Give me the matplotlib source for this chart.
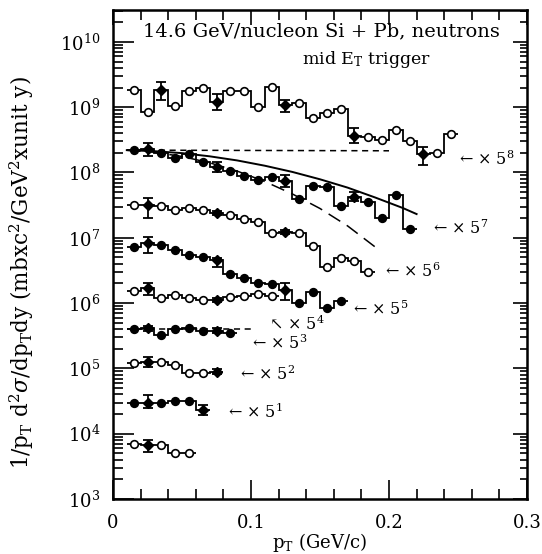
import numpy as np
import matplotlib
matplotlib.use("Agg")
import matplotlib.pyplot as plt
from matplotlib.ticker import MultipleLocator, LogLocator, NullFormatter

plt.rcParams["font.family"] = ["DejaVu Serif", "DejaVu Sans"]
plt.rcParams["mathtext.fontset"] = "dejavuserif"

# ---- data: neutron spectra, scaled by powers of 5 -------------------------
bin_width = 0.01
first_edge = 0.01

y8 = [1.83e9, 8.5e8, 1.83e9, 1.05e9, 1.79e9, 1.99e9, 1.21e9, 1.79e9, 1.79e9,
      1.02e9, 2.02e9, 1.07e9, 1.15e9, 6.8e8, 8.1e8, 9.4e8, 3.6e8, 3.5e8,
      3.2e8, 4.4e8, 3.0e8, 1.9e8, 2.0e8, 3.9e8]
err8 = {2: (1.29e9, 2.45e9), 6: (9.1e8, 1.59e9), 11: (8.5e8, 1.29e9),
        16: (2.8e8, 4.75e8), 21: (1.30e8, 2.48e8)}

y7 = [2.21e8, 2.27e8, 2.01e8, 1.65e8, 1.90e8, 1.43e8, 1.23e8, 1.07e8, 8.9e7,
      7.7e7, 8.45e7, 7.5e7, 3.93e7, 6.21e7, 6.07e7, 3.07e7, 4.17e7, 3.50e7,
      1.99e7, 4.52e7, 1.36e7]
err7 = {1: (1.79e8, 2.86e8), 6: (1.03e8, 1.46e8), 11: (6.07e7, 9.2e7),
        16: (3.67e7, 5.08e7)}

y6 = [3.18e7, 3.18e7, 3.10e7, 2.67e7, 2.89e7, 2.67e7, 2.37e7, 2.23e7, 1.92e7,
      1.77e7, 1.20e7, 1.24e7, 1.17e7, 7.49e6, 3.61e6, 4.85e6, 4.46e6, 3.03e6]
err6 = {1: (1.99e7, 4.03e7), 6: (2.2e7, 2.55e7), 11: (1.15e7, 1.33e7)}

y5 = [7.16e6, 8.24e6, 7.76e6, 6.50e6, 5.45e6, 5.03e6, 4.57e6, 2.79e6, 2.40e6,
      2.05e6, 1.96e6, 1.59e6, 9.93e5, 1.50e6, 8.32e5, 1.09e6]
err5 = {1: (5.79e6, 1.02e7), 6: (3.61e6, 4.85e6), 11: (1.12e6, 2.03e6)}

y4 = [1.55e6, 1.69e6, 1.18e6, 1.33e6, 1.18e6, 1.12e6, 1.12e6, 1.25e6, 1.28e6,
      1.36e6, 1.28e6]
err4 = {1: (1.33e6, 2.05e6), 6: (1.03e6, 1.21e6)}

y3 = [4.02e5, 4.11e5, 3.25e5, 4.02e5, 4.11e5, 3.78e5, 3.78e5, 3.52e5]
err3 = {1: (3.75e5, 4.5e5), 6: (3.45e5, 4.15e5)}

y2 = [1.20e5, 1.27e5, 1.27e5, 1.13e5, 8.59e4, 8.41e4, 8.90e4]
err2 = {1: (1.04e5, 1.51e5), 6: (8.2e4, 9.7e4)}

y1 = [2.98e4, 2.98e4, 2.98e4, 3.17e4, 3.20e4, 2.31e4]
err1 = {1: (2.45e4, 3.96e4), 5: (1.93e4, 2.75e4)}

y0 = [6.95e3, 6.71e3, 6.71e3, 5.12e3, 5.12e3]
err0 = {1: (5.30e3, 8.01e3)}

series = [(y8, err8, False), (y7, err7, True), (y6, err6, False),
          (y5, err5, True), (y4, err4, False), (y3, err3, True),
          (y2, err2, False), (y1, err1, True), (y0, err0, False)]

# model curves drawn over the 5^7 spectrum
flat_pt = [0.01, 0.20]
flat_val = [2.2e8, 2.15e8]

solid_pt = [0.01, 0.03, 0.05, 0.07, 0.09, 0.11, 0.13, 0.15, 0.17, 0.19, 0.21, 0.22]
solid_val = [2.20e8, 2.12e8, 1.98e8, 1.77e8, 1.53e8, 1.27e8, 1.02e8, 7.87e7,
             5.87e7, 4.14e7, 2.86e7, 2.31e7]

steep_pt = [0.01, 0.03, 0.05, 0.07, 0.09, 0.11, 0.13, 0.15, 0.17, 0.19]
steep_val = [2.19e8, 2.04e8, 1.76e8, 1.41e8, 1.05e8, 7.28e7, 4.69e7, 2.81e7,
             1.52e7, 7.23e6]

ref3_pt = [0.01, 0.10]
ref3_val = [4.0e5, 4.0e5]

# scale-factor labels: (text, pT, value)
scale_labels = [
    ("\u2190 \u00d7 5$^{8}$", 0.251, 1.55e8),
    ("\u2190 \u00d7 5$^{7}$", 0.232, 1.36e7),
    ("\u2190 \u00d7 5$^{6}$", 0.197, 3.0e6),
    ("\u2190 \u00d7 5$^{5}$", 0.174, 8.0e5),
    ("\u2196 \u00d7 5$^{4}$", 0.113, 4.8e5),
    ("\u2190 \u00d7 5$^{3}$", 0.101, 2.4e5),
    ("\u2190 \u00d7 5$^{2}$", 0.092, 8.0e4),
    ("\u2190 \u00d7 5$^{1}$", 0.083, 2.1e4),
]

# ---- figure ---------------------------------------------------------------
fig = plt.figure(figsize=(5.42, 5.54), dpi=100)
ax = fig.add_axes([0.2085, 0.0993, 0.7638, 0.8827])
ax.set_yscale("log")
ax.set_xlim(0, 0.3)
ax.set_ylim(1e3, 10 ** 10.489)

for vals, errs, filled in series:
    n = len(vals)
    edges = first_edge + bin_width * np.arange(n + 1)
    centers = 0.5 * (edges[:-1] + edges[1:])
    ax.stairs(vals, edges, baseline=None, color="black", lw=1.3)
    plain = [i for i in range(n) if i not in errs]
    ax.plot(centers[plain], np.array(vals)[plain], "o", ms=5.5, mew=1.2,
            mec="black", mfc="black" if filled else "white", zorder=3)
    idx = sorted(errs)
    yc = np.array(vals)[idx]
    lo = yc - np.array([errs[i][0] for i in idx])
    hi = np.array([errs[i][1] for i in idx]) - yc
    ax.errorbar(centers[idx], yc, yerr=[lo, hi], fmt="D", ms=5, color="black",
                mfc="black", elinewidth=1.3, capsize=3.5, capthick=1.3, zorder=4)

ax.plot(flat_pt, flat_val, color="black", lw=1.1, ls=(0, (4, 3)))
ax.plot(solid_pt, solid_val, color="black", lw=1.4)
ax.plot(steep_pt, steep_val, color="black", lw=1.1, ls=(0, (9, 5)))
ax.plot(ref3_pt, ref3_val, color="black", lw=1.1, ls=(0, (4, 3)), zorder=1)

for txt, x, y in scale_labels:
    ax.text(x, y, txt, fontsize=11.5, ha="left", va="center")

ax.text(0.503, 0.957, "14.6 GeV/nucleon Si + Pb, neutrons", transform=ax.transAxes,
        ha="center", va="center", fontsize=14)
ax.text(0.612, 0.899, "mid E$_{\\rm T}$ trigger", transform=ax.transAxes,
        ha="center", va="center", fontsize=12.5)

# ---- axes styling ---------------------------------------------------------
for s in ax.spines.values():
    s.set_linewidth(1.8)

ax.xaxis.set_major_locator(MultipleLocator(0.1))
ax.xaxis.set_minor_locator(MultipleLocator(0.02))
ax.xaxis.set_major_formatter(plt.FuncFormatter(lambda v, p: "0" if abs(v) < 1e-9 else f"{v:.1f}"))
ax.yaxis.set_major_locator(LogLocator(base=10, numticks=20))
ax.yaxis.set_minor_locator(LogLocator(base=10, subs=np.arange(2, 10), numticks=20))
ax.yaxis.set_minor_formatter(NullFormatter())

ax.tick_params(axis="both", which="both", direction="in", width=1.2,
               top=False, right=False, labelsize=13)
ax.tick_params(axis="y", which="major", length=15, pad=9)
ax.tick_params(axis="y", which="minor", length=7)
ax.tick_params(axis="x", which="major", length=14, pad=11)
ax.tick_params(axis="x", which="minor", length=7)

sec_y = ax.secondary_yaxis("right")
sec_y.yaxis.set_major_locator(LogLocator(base=10, numticks=20))
sec_y.yaxis.set_minor_locator(LogLocator(base=10, subs=np.arange(2, 10), numticks=20))
sec_y.tick_params(which="both", direction="in", width=1.2, labelright=False)
sec_y.tick_params(which="major", length=10)
sec_y.tick_params(which="minor", length=5)
sec_y.yaxis.set_minor_formatter(NullFormatter())
sec_y.yaxis.set_major_formatter(NullFormatter())

sec_x = ax.secondary_xaxis("top")
sec_x.xaxis.set_major_locator(MultipleLocator(0.1))
sec_x.xaxis.set_minor_locator(MultipleLocator(0.02))
sec_x.tick_params(which="both", direction="in", width=1.2, labeltop=False)
sec_x.tick_params(which="major", length=11)
sec_x.tick_params(which="minor", length=7)
sec_x.xaxis.set_major_formatter(NullFormatter())

ax.set_xlabel("p$_{\\rm T}$ (GeV/c)", fontsize=13, labelpad=-1)
ax.set_ylabel("1/p$_{\\rm T}$ d$^2\\sigma$/dp$_{\\rm T}$dy (mbxc$^2$/GeV$^2$xunit y)",
              fontsize=15.5)
ax.yaxis.set_label_coords(-0.185, 0.463)

fig.savefig("out.png", dpi=100)
